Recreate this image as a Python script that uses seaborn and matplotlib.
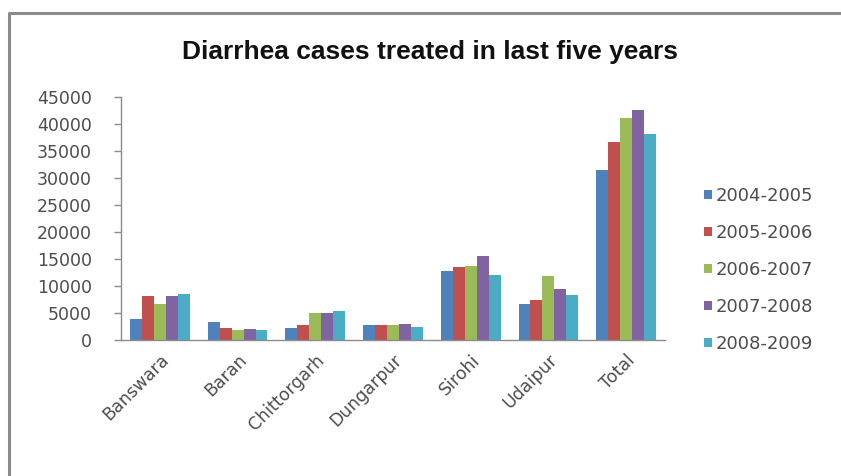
import matplotlib
matplotlib.use("Agg")
import matplotlib.pyplot as plt
from matplotlib.lines import Line2D
from matplotlib.patches import Patch
import numpy as np
import pandas as pd
import seaborn as sns

# Districts and reporting years
districts = ["Banswara", "Baran", "Chittorgarh", "Dungarpur", "Sirohi", "Udaipur", "Total"]
years = ["2004-2005", "2005-2006", "2006-2007", "2007-2008", "2008-2009"]

# Diarrhea cases treated, one list per year (same order as districts)
cases_2004_05 = [3900, 3400, 2300, 2700, 12800, 6600, 31400]
cases_2005_06 = [8200, 2200, 2700, 2700, 13500, 7500, 36600]
cases_2006_07 = [6700, 1800, 5000, 2800, 13700, 11800, 41200]
cases_2007_08 = [8200, 2100, 5000, 2900, 15500, 9500, 42600]
cases_2008_09 = [8500, 1800, 5300, 2400, 12100, 8400, 38100]

yticks = [0, 5000, 10000, 15000, 20000, 25000, 30000, 35000, 40000, 45000]

colors = ["#4F81BD", "#C0504D", "#9BBB59", "#8064A2", "#4BACC6"]

series = [cases_2004_05, cases_2005_06, cases_2006_07, cases_2007_08, cases_2008_09]
df = pd.DataFrame(
    [(d, y, v) for y, vals in zip(years, series) for d, v in zip(districts, vals)],
    columns=["District", "Year", "Cases"],
)

sns.set_theme(style="white")
plt.rcParams["font.family"] = ["DejaVu Sans"]

W, H = 841, 476
fig = plt.figure(figsize=(W / 100, H / 100), dpi=100)
ax = fig.add_axes([121 / W, 1 - 340 / H, (665 - 121) / W, (340 - 97) / H])

sns.barplot(
    data=df, x="District", y="Cases", hue="Year", order=districts,
    hue_order=years, palette=colors, width=0.77, gap=0, saturation=1,
    edgecolor="none", linewidth=0, legend=False, ax=ax,
)

axis_grey = "#8C8C8C"
text_grey = "#4D4D4D"

ax.set_xlim(-0.5, len(districts) - 0.5)
ax.set_ylim(0, 45000)
ax.set_yticks(yticks)
ax.set_yticklabels([str(t) for t in yticks], fontsize=12.5, color=text_grey)
ax.set_xticks(range(len(districts)))
ax.set_xticklabels(districts, rotation=45, ha="right", rotation_mode="anchor",
                   fontsize=12.5, color=text_grey)
ax.set_xticks(np.arange(-0.5, len(districts), 1), minor=True)
ax.tick_params(axis="x", which="major", length=0, pad=8)
ax.tick_params(axis="x", which="minor", length=5, width=1, color=axis_grey, direction="out")
ax.tick_params(axis="y", length=5, width=1, color=axis_grey, direction="out", left=True, pad=16)
ax.set_xlabel("")
ax.set_ylabel("")

for side in ("top", "right"):
    ax.spines[side].set_visible(False)
for side in ("left", "bottom"):
    ax.spines[side].set_color(axis_grey)
    ax.spines[side].set_linewidth(1)

# Chart title
fig.text(430 / W, 1 - 52 / H, "Diarrhea cases treated in last five years",
         ha="center", va="center", fontsize=19, fontweight="bold",
         family=["Liberation Sans", "DejaVu Sans"], color="#111111")

# Legend on the right
handles = [Patch(facecolor=c, edgecolor="none") for c in colors]
fig.legend(handles, years, loc="center left", bbox_to_anchor=(704 / W, 1 - 270 / H),
           frameon=False, fontsize=13, handlelength=0.42, handleheight=0.42,
           handletextpad=0.25, labelspacing=1.05, borderpad=0, borderaxespad=0,
           labelcolor=text_grey)

# Chart area outline (left and top edges)
fig.add_artist(Line2D([9 / W, 9 / W, 1.0], [0.0, 1 - 12.5 / H, 1 - 12.5 / H],
                      transform=fig.transFigure, color="#8A8A8A", linewidth=2.2))

fig.savefig("out.png", dpi=100)
